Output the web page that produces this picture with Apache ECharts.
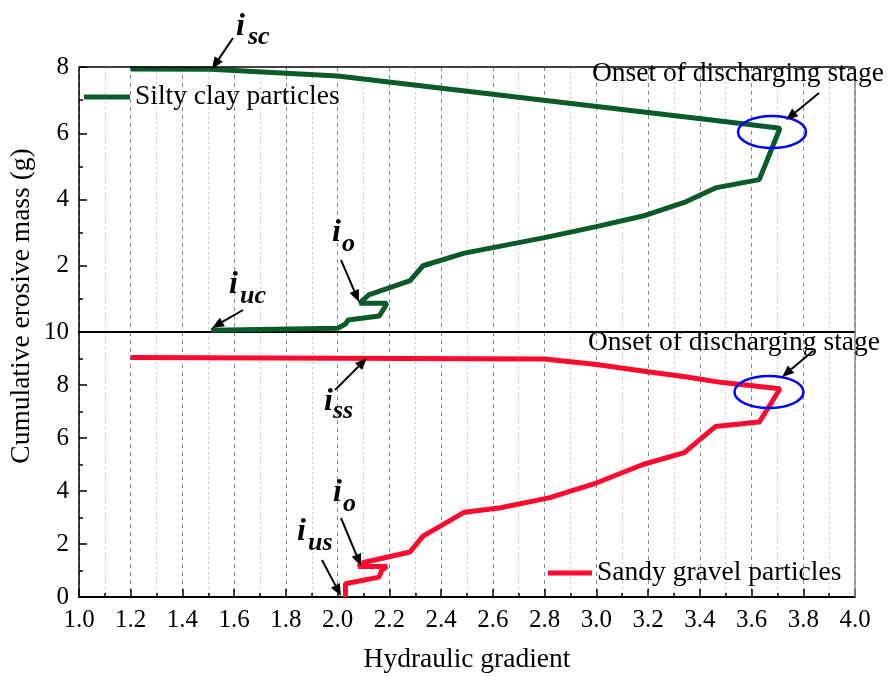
<!DOCTYPE html>
<html>
<head>
<meta charset="utf-8">
<script src="https://cdn.jsdelivr.net/npm/echarts@6/dist/echarts.min.js"></script>
<style>html,body{margin:0;padding:0;background:#fff;}#c{width:888px;height:677px;}</style>
</head>
<body>
<div id="c"></div>
<script>
// ---- data ----
const xTicks = [1.0,1.2,1.4,1.6,1.8,2.0,2.2,2.4,2.6,2.8,3.0,3.2,3.4,3.6,3.8,4.0];
const clayName = 'Silty clay particles';
const clayX = [1.51, 2.0, 2.03, 2.04, 2.16, 2.18, 2.19, 2.085, 2.12, 2.28, 2.33, 2.49, 2.8, 3.0, 3.18, 3.34, 3.46, 3.63, 3.71, 3.47, 2.0, 1.51, 1.2];
const clayY = [0.05, 0.11, 0.24, 0.36, 0.48, 0.72, 0.87, 0.87, 1.12, 1.55, 2.0, 2.38, 2.85, 3.18, 3.50, 3.91, 4.35, 4.6, 6.15, 6.38, 7.73, 7.93, 7.94];
const gravelName = 'Sandy gravel particles';
const gravelX = [2.03, 2.03, 2.16, 2.17, 2.19, 2.08, 2.10, 2.28, 2.33, 2.49, 2.63, 2.82, 3.0, 3.18, 3.34, 3.46, 3.63, 3.71, 3.48, 3.35, 3.2, 3.0, 2.8, 1.2];
const gravelY = [0.0, 0.5, 0.75, 1.0, 1.15, 1.15, 1.3, 1.7, 2.3, 3.2, 3.37, 3.75, 4.3, 5.0, 5.45, 6.43, 6.6, 7.86, 8.1, 8.3, 8.5, 8.77, 8.98, 9.04];
const topYMax = 8, botYMax = 10;

const FF = 'Liberation Serif';
const GREEN = '#0a5a2a', RED = '#ff0a2e';
const chart = echarts.init(document.getElementById('c'));

function pairs(xs, ys){ return xs.map((x,i)=>[x, ys[i]]); }

const commonX = {
  type:'value', min:1, max:4, interval:0.2,
  splitLine:{show:true, lineStyle:{color:'#8a8a8a', type:[4,4], width:1}},
  minorTick:{show:false, splitNumber:2},
  minorSplitLine:{show:true, lineStyle:{color:'#c4c4c4', type:[2,3], width:1}}
};

// annotation helpers (pixel layout of decorations)
function txt(t, x, base, size, extra){
  return Object.assign({type:'text', x:x, y: base - 0.33*size, z:100,
    style:Object.assign({text:t, fontFamily:FF, fontSize:size, fill:'#000', textVerticalAlign:'middle', textAlign:'left'}, extra||{})});
}
function arrow(x1,y1,x2,y2){
  const a = Math.atan2(y2-y1, x2-x1), L=12, W=5;
  const bx = x2 - L*Math.cos(a), by = y2 - L*Math.sin(a);
  const px = -Math.sin(a)*W, py = Math.cos(a)*W;
  return [
    {type:'line', z:100, shape:{x1:x1,y1:y1,x2:bx,y2:by}, style:{stroke:'#000', lineWidth:2}},
    {type:'polygon', z:100, shape:{points:[[x2,y2],[bx+px,by+py],[bx-px,by-py]]}, style:{fill:'#000'}}
  ];
}
function sym(mainX, mainBase, sub, subX, subBase){
  const st = {fontStyle:'italic', fontWeight:'bold'};
  return [txt('i', mainX, mainBase, 32, st), txt(sub, subX, subBase, 26, st)];
}

const graphic = [].concat(
  // frame
  [{type:'line', z:50, shape:{x1:79,y1:67,x2:855,y2:67}, style:{stroke:'#000', lineWidth:1.5}},
   {type:'line', z:50, shape:{x1:855,y1:67,x2:855,y2:597}, style:{stroke:'#888', lineWidth:1.5}}],
  sym(236, 37, 'sc', 248, 46), arrow(233,38,212,69),
  sym(229, 295, 'uc', 240, 305), arrow(243,310,212,328),
  sym(332, 243, 'o', 342, 253), arrow(341,260,359,302),
  [txt('Onset of discharging stage', 592, 83, 27.5)], arrow(819,93,786,120),
  [{type:'ellipse', z:90, shape:{cx:772, cy:132, rx:34, ry:16}, style:{fill:'none', stroke:'#0000ff', lineWidth:2.5}}],
  sym(324, 412, 'ss', 333, 420), arrow(335,390,367,358),
  sym(333, 503, 'o', 343, 513), arrow(341,518,361,566),
  sym(297, 542, 'us', 308, 552), arrow(322,560,341,596),
  [txt('Onset of discharging stage', 588, 352, 27.5)], arrow(813,351,782,377),
  [{type:'ellipse', z:90, shape:{cx:769, cy:392, rx:34.5, ry:16}, style:{fill:'none', stroke:'#0000ff', lineWidth:2.5}}],
  [{type:'text', x:22, y:306, rotation:Math.PI/2, z:100,
    style:{text:'Cumulative erosive mass (g)', fontFamily:FF, fontSize:27.5, fill:'#000', textAlign:'center', textVerticalAlign:'middle'}},
   {type:'text', x:467, y:660, z:100,
    style:{text:'Hydraulic gradient', fontFamily:FF, fontSize:27.5, fill:'#000', textAlign:'center', textVerticalAlign:'middle'}}]
);

const option = {
  backgroundColor:'#fff',
  animation:false,
  grid:[
    {left:79, top:67, width:776, height:265},
    {left:79, top:332, width:776, height:265}
  ],
  legend:[
    {data:[clayName], left:84, top:83, padding:0, icon:'rect', itemWidth:46, itemHeight:5,
     textStyle:{fontFamily:FF, fontSize:27.5, color:'#000'}},
    {data:[gravelName], left:548, top:559, padding:0, icon:'rect', itemWidth:44, itemHeight:5,
     textStyle:{fontFamily:FF, fontSize:27.5, color:'#000'}}
  ],
  xAxis:[
    Object.assign({}, commonX, {gridIndex:0, axisLine:{lineStyle:{color:'#000', width:2}}, axisTick:{show:false}, axisLabel:{show:false}}),
    Object.assign({}, commonX, {gridIndex:1, axisLine:{lineStyle:{color:'#000', width:2}},
      axisTick:{show:true, inside:true, length:8, lineStyle:{color:'#000', width:1.5}},
      minorTick:{show:true, splitNumber:2, length:4, lineStyle:{color:'#000', width:1.5}},
      axisLabel:{margin:11, fontFamily:FF, fontSize:25, color:'#000', formatter:v=>v.toFixed(1)}})
  ],
  yAxis:[
    {gridIndex:0, type:'value', min:0, max:topYMax, interval:2,
     axisLine:{show:true, lineStyle:{color:'#000', width:1.5}},
     axisTick:{show:true, inside:true, length:8, lineStyle:{color:'#000', width:1.5}},
     minorTick:{show:true, splitNumber:2, length:4, lineStyle:{color:'#000', width:1.5}},
     splitLine:{show:false},
     axisLabel:{margin:10, fontFamily:FF, fontSize:25, color:'#000', formatter:v=> v===0 ? '' : String(v)}},
    {gridIndex:1, type:'value', min:0, max:botYMax, interval:2,
     axisLine:{show:true, lineStyle:{color:'#000', width:1.5}},
     axisTick:{show:true, inside:true, length:8, lineStyle:{color:'#000', width:1.5}},
     minorTick:{show:true, splitNumber:2, length:4, lineStyle:{color:'#000', width:1.5}},
     splitLine:{show:false},
     axisLabel:{margin:10, fontFamily:FF, fontSize:25, color:'#000'}}
  ],
  series:[
    {name:clayName, type:'line', xAxisIndex:0, yAxisIndex:0, data:pairs(clayX, clayY),
     symbol:'none', lineStyle:{color:GREEN, width:5}, itemStyle:{color:GREEN}},
    {name:gravelName, type:'line', xAxisIndex:1, yAxisIndex:1, data:pairs(gravelX, gravelY),
     symbol:'none', lineStyle:{color:RED, width:5}, itemStyle:{color:RED}}
  ],
  graphic:graphic
};
chart.setOption(option);
</script>
</body>
</html>
